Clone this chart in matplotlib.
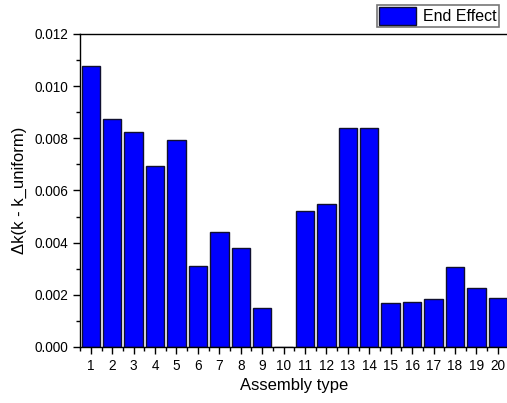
import matplotlib
matplotlib.use('Agg')
import matplotlib.pyplot as plt
from matplotlib.ticker import MultipleLocator

plt.rcParams['font.family'] = ['Liberation Sans', 'DejaVu Sans']

# end effect per assembly type
assembly = list(range(1, 21))
delta_k = [0.01075, 0.00875, 0.00822, 0.00695, 0.00794, 0.00309, 0.00440, 0.00378,
           0.00148, 0.0, 0.00521, 0.00549, 0.00838, 0.00839, 0.00167, 0.00173,
           0.00183, 0.00306, 0.00225, 0.00186]

fig = plt.figure(figsize=(5.07, 4.03), dpi=100)
ax = fig.add_axes([0.158, 0.139, 0.845, 0.777])

ax.bar(assembly, delta_k, width=0.86, color='#0000ff', edgecolor='#101030',
       linewidth=1.0, label='End Effect')

ax.set_xlim(0.5, 20.5)
ax.set_ylim(0, 0.012)
ax.set_xticks(assembly)
ax.xaxis.set_minor_locator(MultipleLocator(0.5))
ax.yaxis.set_major_locator(MultipleLocator(0.002))
ax.yaxis.set_minor_locator(MultipleLocator(0.001))
ax.yaxis.set_major_formatter(plt.FormatStrFormatter('%.3f'))
ax.tick_params(which='major', direction='out', length=5, width=1, labelsize=9.8)
ax.tick_params(which='minor', direction='out', length=3, width=1)
for s in ax.spines.values():
    s.set_linewidth(1.0)

ax.set_xlabel('Assembly type', fontsize=12, labelpad=4)
ax.set_ylabel('Δk(k - k_uniform)', fontsize=12, labelpad=5)

leg = fig.legend(loc='upper left', bbox_to_anchor=(377 / 507, 1 - 5 / 403), fontsize=11.5,
                 frameon=True, fancybox=False, edgecolor='#555555',
                 handlelength=2.3, handleheight=1.3, borderpad=0.15,
                 handletextpad=0.4, borderaxespad=0)
leg.get_frame().set_linewidth(1.2)

fig.savefig('out.png', dpi=100)
